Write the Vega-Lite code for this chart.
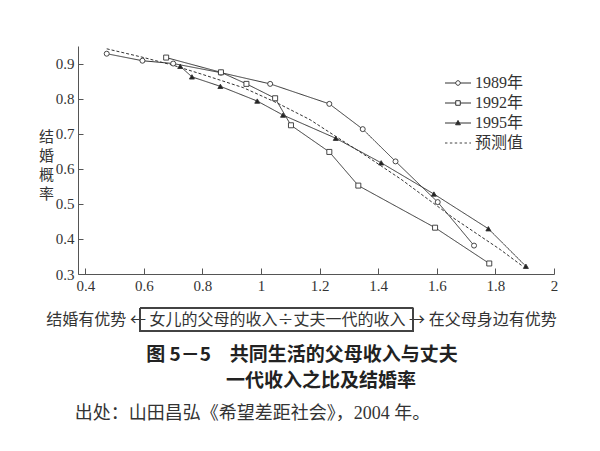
{
  "$schema": "https://vega.github.io/schema/vega-lite/v6.json",
  "width": 476,
  "height": 228,
  "autosize": {"type": "none"},
  "padding": {"left": 78, "top": 46, "right": 46, "bottom": 177},
  "background": "white",
  "config": {
    "view": {"stroke": null},
    "axis": {"grid": false, "domainColor": "#555", "tickColor": "#555", "labelColor": "#333", "titleColor": "#333", "labelFont": "Liberation Serif", "labelFontSize": 15, "titleFont": "Noto Sans CJK SC", "titleFontWeight": "normal"},
    "legend": {"labelFont": "'Liberation Serif', 'Noto Sans CJK SC', serif"}
  },
  "title": {
    "text": ["图 5－5　共同生活的父母收入与丈夫", "\u200b　　一代收入之比及结婚率"],
    "subtitle": "出处：山田昌弘《希望差距社会》，2004 年。　　　　　　\u200b",
    "orient": "bottom",
    "anchor": "middle",
    "dx": -14,
    "offset": 14,
    "font": "Noto Sans CJK SC",
    "fontSize": 19,
    "fontWeight": "bold",
    "lineHeight": 26,
    "color": "#222",
    "subtitleFont": "'Liberation Serif', 'Noto Sans CJK SC', serif",
    "subtitleFontSize": 18,
    "subtitleColor": "#333",
    "subtitlePadding": 14
  },
  "data": {
    "values": [
      {"series": "1989年", "x": 0.473, "y": 0.928},
      {"series": "1989年", "x": 0.595, "y": 0.908},
      {"series": "1989年", "x": 0.700, "y": 0.900},
      {"series": "1989年", "x": 0.863, "y": 0.874},
      {"series": "1989年", "x": 1.031, "y": 0.842},
      {"series": "1989年", "x": 1.233, "y": 0.785},
      {"series": "1989年", "x": 1.347, "y": 0.713},
      {"series": "1989年", "x": 1.459, "y": 0.621},
      {"series": "1989年", "x": 1.603, "y": 0.505},
      {"series": "1989年", "x": 1.727, "y": 0.381},
      {"series": "1992年", "x": 0.676, "y": 0.917},
      {"series": "1992年", "x": 0.863, "y": 0.875},
      {"series": "1992年", "x": 0.950, "y": 0.842},
      {"series": "1992年", "x": 1.048, "y": 0.801},
      {"series": "1992年", "x": 1.102, "y": 0.724},
      {"series": "1992年", "x": 1.233, "y": 0.648},
      {"series": "1992年", "x": 1.332, "y": 0.552},
      {"series": "1992年", "x": 1.594, "y": 0.432},
      {"series": "1992年", "x": 1.779, "y": 0.330},
      {"series": "1995年", "x": 0.724, "y": 0.892},
      {"series": "1995年", "x": 0.764, "y": 0.862},
      {"series": "1995年", "x": 0.861, "y": 0.835},
      {"series": "1995年", "x": 0.987, "y": 0.793},
      {"series": "1995年", "x": 1.075, "y": 0.753},
      {"series": "1995年", "x": 1.255, "y": 0.687},
      {"series": "1995年", "x": 1.410, "y": 0.617},
      {"series": "1995年", "x": 1.590, "y": 0.528},
      {"series": "1995年", "x": 1.776, "y": 0.429},
      {"series": "1995年", "x": 1.904, "y": 0.322},
      {"series": "预测值", "x": 0.473, "y": 0.942},
      {"series": "预测值", "x": 0.600, "y": 0.917},
      {"series": "预测值", "x": 0.700, "y": 0.895},
      {"series": "预测值", "x": 0.800, "y": 0.869},
      {"series": "预测值", "x": 0.940, "y": 0.831},
      {"series": "预测值", "x": 1.054, "y": 0.788},
      {"series": "预测值", "x": 1.167, "y": 0.740},
      {"series": "预测值", "x": 1.250, "y": 0.695},
      {"series": "预测值", "x": 1.360, "y": 0.636},
      {"series": "预测值", "x": 1.478, "y": 0.570},
      {"series": "预测值", "x": 1.656, "y": 0.460},
      {"series": "预测值", "x": 1.816, "y": 0.370},
      {"series": "预测值", "x": 1.895, "y": 0.321}
    ]
  },
  "encoding": {
    "x": {
      "field": "x", "type": "quantitative",
      "scale": {"domain": [0.375, 2], "nice": false, "zero": false},
      "axis": {
        "values": [0.4, 0.6, 0.8, 1, 1.2, 1.4, 1.6, 1.8, 2],
        "format": "~g",
        "tickSize": -6,
        "labelPadding": 10,
        "labelFlush": false,
        "title": "结婚有优势 ←  女儿的父母的收入÷丈夫一代的收入  → 在父母身边有优势",
        "titleFontSize": 16,
        "titleX": 223,
        "titleY": 45,
        "titleAnchor": "middle",
        "titleAlign": "center",
        "titleBaseline": "middle"
      }
    },
    "y": {
      "field": "y", "type": "quantitative",
      "scale": {"domain": [0.3, 0.95], "nice": false, "zero": false},
      "axis": {
        "values": [0.3, 0.4, 0.5, 0.6, 0.7, 0.8, 0.9],
        "format": ".1f",
        "tickSize": -5,
        "labelPadding": 9,
        "labelFlush": false,
        "title": ["结", "婚", "概", "率"],
        "titleAngle": 0,
        "titleFontSize": 15,
        "titleLineHeight": 19,
        "titleX": -32,
        "titleY": 90,
        "titleAlign": "center",
        "titleBaseline": "middle"
      }
    }
  },
  "layer": [
    {
      "mark": {"type": "rect", "fill": null, "stroke": "#444", "strokeWidth": 1},
      "encoding": {
        "x": {"datum": 0.587},
        "x2": {"datum": 1.519},
        "y": {"datum": 0.202},
        "y2": {"datum": 0.137}
      }
    },
    {
      "mark": {"type": "line", "stroke": "#333", "strokeWidth": 1},
      "encoding": {
        "detail": {"field": "series"},
        "strokeDash": {
          "field": "series", "type": "nominal",
          "scale": {"domain": ["1989年", "1992年", "1995年", "预测值"], "range": [[1, 0], [1, 0], [1, 0], [3, 2]]},
          "legend": null
        },
        "strokeWidth": {
          "field": "series", "type": "nominal",
          "scale": {"domain": ["1989年", "1992年", "1995年", "预测值"], "range": [1, 1, 1, 0.8]},
          "legend": null
        }
      }
    },
    {
      "transform": [{"filter": "datum.series !== '预测值'"}],
      "mark": {"type": "point", "filled": true, "stroke": "#333", "strokeWidth": 0.9, "size": 25, "opacity": 1},
      "encoding": {
        "shape": {
          "field": "series", "type": "nominal",
          "scale": {"domain": ["1989年", "1992年", "1995年"], "range": ["circle", "square", "triangle-up"]},
          "legend": null
        },
        "fill": {
          "field": "series", "type": "nominal",
          "scale": {"domain": ["1989年", "1992年", "1995年"], "range": ["white", "white", "#222"]},
          "legend": null
        }
      }
    },
    {
      "mark": {"type": "point", "filled": false, "strokeWidth": 1, "opacity": 0},
      "encoding": {
        "shape": {
          "field": "series", "type": "nominal",
          "scale": {
            "domain": ["1989年", "1992年", "1995年", "预测值"],
            "range": [
              "M-1.6,0H-0.28M0.28,0H1.6M-0.28,0A0.28,0.28 0 1,0 0.28,0A0.28,0.28 0 1,0 -0.28,0Z",
              "M-1.6,0H-0.28M0.28,0H1.6M-0.28,-0.28H0.28V0.28H-0.28Z",
              "M-1.6,0H1.6M0,-0.32L0.3,0.22L-0.3,0.22Z",
              "M-1.6,0H-1.3M-1,0H-0.7M-0.4,0H-0.1M0.2,0H0.5M0.8,0H1.1M1.4,0H1.6"
            ]
          },
          "legend": {
            "title": null,
            "orient": "none",
            "legendX": 371,
            "legendY": 28,
            "symbolSize": 264,
            "symbolOpacity": 1,
            "symbolStrokeWidth": 1,
            "labelFontSize": 16,
            "labelColor": "#333",
            "labelOffset": 8,
            "rowPadding": 3
          }
        },
        "stroke": {
          "field": "series", "type": "nominal",
          "scale": {"domain": ["1989年", "1992年", "1995年", "预测值"], "range": ["#333", "#333", "#333", "#444"]}
        },
        "fill": {
          "field": "series", "type": "nominal",
          "scale": {"domain": ["1989年", "1992年", "1995年", "预测值"], "range": ["white", "white", "#222", "transparent"]}
        }
      }
    }
  ],
  "resolve": {"scale": {"shape": "independent", "fill": "independent", "stroke": "independent", "strokeDash": "independent", "strokeWidth": "independent"}}
}
